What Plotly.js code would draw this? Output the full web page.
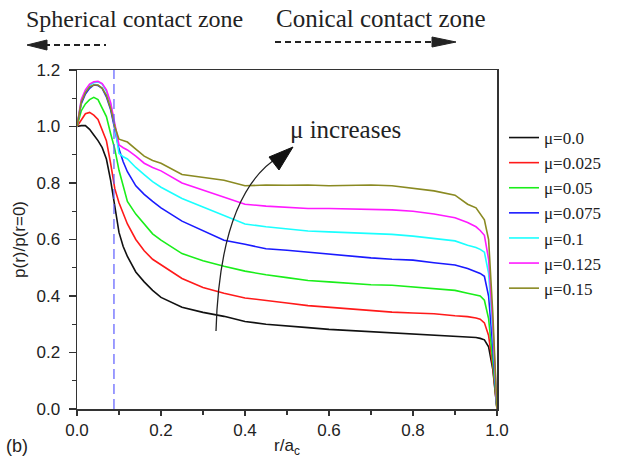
<!DOCTYPE html>
<html><head><meta charset="utf-8">
<script src="https://cdn.plot.ly/plotly-3.0.1.min.js"></script>
<style>html,body{margin:0;padding:0;background:#fff}#chart{width:618px;height:461px}</style>
</head><body><div id="chart"></div>
<script>
// ---- data ----
const rOverA = [0, 0.01, 0.02, 0.03, 0.04, 0.05, 0.06, 0.07, 0.08, 0.09, 0.10, 0.11, 0.12, 0.14, 0.16, 0.18, 0.2, 0.25, 0.3, 0.35, 0.4, 0.45, 0.5, 0.55, 0.6, 0.65, 0.7, 0.75, 0.8, 0.85, 0.9, 0.93, 0.95, 0.96, 0.97, 0.98, 0.99, 1.0];

const mu000 = [1.0, 1.003, 1.003, 0.99, 0.97, 0.95, 0.925, 0.885, 0.81, 0.72, 0.625, 0.575, 0.54, 0.485, 0.45, 0.42, 0.395, 0.36, 0.342, 0.328, 0.31, 0.30, 0.295, 0.288, 0.282, 0.278, 0.272, 0.268, 0.265, 0.262, 0.258, 0.256, 0.253, 0.25, 0.245, 0.22, 0.14, 0.0];
const mu025 = [1.0, 1.025, 1.045, 1.05, 1.04, 1.025, 0.99, 0.95, 0.87, 0.78, 0.73, 0.69, 0.655, 0.60, 0.56, 0.53, 0.51, 0.462, 0.43, 0.41, 0.393, 0.385, 0.375, 0.366, 0.36, 0.355, 0.348, 0.343, 0.34, 0.337, 0.33, 0.327, 0.322, 0.318, 0.305, 0.26, 0.15, 0.0];
const mu050 = [1.0, 1.055, 1.08, 1.095, 1.103, 1.095, 1.065, 1.035, 0.975, 0.92, 0.845, 0.79, 0.735, 0.69, 0.655, 0.62, 0.598, 0.55, 0.525, 0.505, 0.488, 0.475, 0.465, 0.455, 0.45, 0.445, 0.44, 0.438, 0.432, 0.428, 0.42, 0.41, 0.405, 0.40, 0.385, 0.32, 0.17, 0.0];
const mu075 = [1.0, 1.08, 1.115, 1.135, 1.147, 1.145, 1.135, 1.105, 1.06, 0.99, 0.92, 0.875, 0.84, 0.79, 0.76, 0.735, 0.712, 0.665, 0.63, 0.597, 0.583, 0.567, 0.562, 0.555, 0.548, 0.542, 0.535, 0.53, 0.527, 0.518, 0.51, 0.497, 0.485, 0.48, 0.47, 0.40, 0.22, 0.0];
const mu100 = [1.0, 1.09, 1.125, 1.145, 1.155, 1.158, 1.15, 1.125, 1.08, 1.0, 0.905, 0.893, 0.885, 0.855, 0.83, 0.805, 0.785, 0.745, 0.715, 0.685, 0.655, 0.645, 0.638, 0.63, 0.627, 0.624, 0.622, 0.618, 0.612, 0.603, 0.595, 0.58, 0.572, 0.565, 0.555, 0.48, 0.27, 0.0];
const mu125 = [1.0, 1.095, 1.13, 1.15, 1.158, 1.16, 1.152, 1.13, 1.085, 1.01, 0.935, 0.925, 0.917, 0.895, 0.87, 0.855, 0.843, 0.80, 0.775, 0.748, 0.725, 0.718, 0.713, 0.71, 0.71, 0.708, 0.707, 0.705, 0.70, 0.69, 0.677, 0.66, 0.645, 0.632, 0.615, 0.53, 0.30, 0.0];
const mu150 = [1.0, 1.085, 1.12, 1.14, 1.147, 1.147, 1.135, 1.11, 1.065, 1.0, 0.955, 0.95, 0.945, 0.92, 0.895, 0.88, 0.87, 0.83, 0.82, 0.81, 0.79, 0.793, 0.792, 0.793, 0.79, 0.792, 0.793, 0.79, 0.78, 0.772, 0.757, 0.725, 0.712, 0.69, 0.67, 0.60, 0.34, 0.0];

const seriesNames = ['\u03bc=0.0', '\u03bc=0.025', '\u03bc=0.05', '\u03bc=0.075', '\u03bc=0.1', '\u03bc=0.125', '\u03bc=0.15'];
const seriesValues = [mu000, mu025, mu050, mu075, mu100, mu125, mu150];
const seriesColors = ['#111111', '#ff1a1a', '#1aee1a', '#1a1aff', '#1affff', '#ff1aff', '#8a8a22'];

const boundaryX = [0.088, 0.088];
const boundaryY = [0, 1.2];

const xTickVals = [0, 0.2, 0.4, 0.6, 0.8, 1.0];
const xTickText = ['0.0', '0.2', '0.4', '0.6', '0.8', '1.0'];
const yTickVals = [0, 0.2, 0.4, 0.6, 0.8, 1.0, 1.2];
const yTickText = ['0.0', '0.2', '0.4', '0.6', '0.8', '1.0', '1.2'];

// ---- layout helpers (pixel -> paper) ----
const L = 77, R = 497, T = 70, B = 409;
const px = v => (v - L) / (R - L);
const py = v => (B - v) / (B - T);

const traces = seriesValues.map((vals, i) => ({
  x: rOverA, y: vals, type: 'scatter', mode: 'lines', name: seriesNames[i],
  legendgroup: 'g' + i,
  line: {color: seriesColors[i], width: 1.6}
}));
traces.push({
  x: boundaryX, y: boundaryY, type: 'scatter', mode: 'lines', showlegend: false,
  line: {color: '#5c5cff', width: 1.2, dash: '10px,5px'}, hoverinfo: 'skip'
});

const serif = 'Liberation Serif, Times New Roman, serif';
const sans = 'Liberation Sans, Arial, sans-serif';

const shapes = [
  // left dashed arrow
  {type: 'line', xref: 'paper', yref: 'paper', x0: px(44), y0: py(45), x1: px(106), y1: py(45), line: {color: '#222', width: 1.8, dash: '6px,4px'}},
  {type: 'path', xref: 'paper', yref: 'paper', path: `M ${px(27)},${py(45)} L ${px(47)},${py(40)} L ${px(47)},${py(50)} Z`, fillcolor: '#222', line: {color: '#222', width: 1}},
  // right dashed arrow
  {type: 'line', xref: 'paper', yref: 'paper', x0: px(275), y0: py(42), x1: px(432), y1: py(42), line: {color: '#222', width: 1.8, dash: '6px,4px'}},
  {type: 'path', xref: 'paper', yref: 'paper', path: `M ${px(456)},${py(42)} L ${px(432)},${py(37)} L ${px(432)},${py(47)} Z`, fillcolor: '#222', line: {color: '#222', width: 1}},
  // curved arrow
  {type: 'path', xref: 'paper', yref: 'paper', path: `M ${px(216)},${py(331)} Q ${px(220)},${py(192)} ${px(280)},${py(156)}`, line: {color: '#222', width: 1.3}},
  {type: 'path', xref: 'paper', yref: 'paper', path: `M ${px(293)},${py(147)} L ${px(269)},${py(157)} L ${px(279)},${py(170)} Z`, fillcolor: '#111', line: {color: '#111', width: 1}}
];

const annotations = [
  {text: 'Spherical contact zone', xref: 'paper', yref: 'paper', x: px(24), y: py(19), xanchor: 'left', yanchor: 'middle', showarrow: false, font: {family: serif, size: 24, color: '#222'}},
  {text: 'Conical contact zone', xref: 'paper', yref: 'paper', x: px(274), y: py(19), xanchor: 'left', yanchor: 'middle', showarrow: false, font: {family: serif, size: 25, color: '#222'}},
  {text: '\u03bc increases', xref: 'paper', yref: 'paper', x: px(288), y: py(129), xanchor: 'left', yanchor: 'middle', showarrow: false, font: {family: serif, size: 25, color: '#222'}},
  {text: '(b)', xref: 'paper', yref: 'paper', x: px(4), y: py(446), xanchor: 'left', yanchor: 'middle', showarrow: false, font: {family: sans, size: 18, color: '#222'}}
];

const axisCommon = {
  showline: true, linecolor: '#333', linewidth: 1.5, mirror: true,
  ticks: 'outside', ticklen: 5, tickwidth: 1.3, tickcolor: '#333',
  showgrid: false, zeroline: false,
  tickfont: {family: sans, size: 17, color: '#222'}
};

const layout = {
  width: 618, height: 461,
  margin: {l: L, r: 618 - R, t: T, b: 461 - B, pad: 0},
  paper_bgcolor: '#fff', plot_bgcolor: '#fff',
  showlegend: true,
  legend: {x: px(504), y: py(120), xanchor: 'left', yanchor: 'top', bgcolor: 'rgba(0,0,0,0)',
           font: {family: serif, size: 17, color: '#222'}, tracegroupgap: 0, itemwidth: 30},
  xaxis: Object.assign({}, axisCommon, {
    range: [0, 1.0], tickvals: xTickVals, ticktext: xTickText,
    minor: {dtick: 0.1, tick0: 0, ticks: 'outside', ticklen: 4, tickcolor: '#333'},
    title: {text: 'r/a<sub>c</sub>', font: {family: sans, size: 17, color: '#222'}, standoff: 0}
  }),
  yaxis: Object.assign({}, axisCommon, {
    range: [0, 1.2], tickvals: yTickVals, ticktext: yTickText, ticklen: 7, ticklabelstandoff: 5,
    minor: {dtick: 0.1, tick0: 0, ticks: 'outside', ticklen: 4, tickcolor: '#333'},
    title: {text: 'p(r)/p(r=0)', font: {family: sans, size: 17, color: '#222'}, standoff: 6}
  }),
  shapes: shapes,
  annotations: annotations
};

Plotly.newPlot('chart', traces, layout, {displayModeBar: false, staticPlot: true});
</script></body></html>
